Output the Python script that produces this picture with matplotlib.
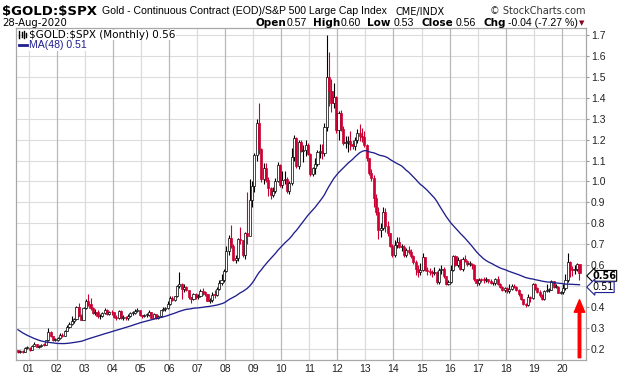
import matplotlib.pyplot as plt
import matplotlib.transforms as mtransforms
from matplotlib.lines import Line2D
import numpy as np

# Gold / S&P 500 ratio, monthly, Aug 2000 .. Aug 2020
closes = [
    0.183, 0.190, 0.185, 0.205, 0.206,                                              # 2000 Aug-Dec
    0.195, 0.215, 0.222, 0.211, 0.213, 0.221, 0.220, 0.241, 0.281, 0.263, 0.241, 0.243,  # 2001
    0.250, 0.268, 0.263, 0.287, 0.306, 0.321, 0.334, 0.342, 0.398, 0.358, 0.340, 0.394,  # 2002
    0.430, 0.414, 0.395, 0.370, 0.378, 0.355, 0.359, 0.372, 0.387, 0.365, 0.376, 0.374,  # 2003
    0.354, 0.346, 0.379, 0.350, 0.351, 0.346, 0.355, 0.370, 0.373, 0.380, 0.386, 0.361,  # 2004
    0.357, 0.361, 0.362, 0.376, 0.350, 0.365, 0.348, 0.356, 0.385, 0.389, 0.396, 0.415,  # 2005
    0.445, 0.434, 0.451, 0.500, 0.509, 0.485, 0.496, 0.480, 0.450, 0.438, 0.461, 0.448,  # 2006
    0.453, 0.475, 0.471, 0.460, 0.431, 0.433, 0.459, 0.457, 0.487, 0.513, 0.529, 0.571,  # 2007
    0.670, 0.730, 0.692, 0.623, 0.633, 0.727, 0.719, 0.649, 0.755, 0.740, 0.910, 0.979,  # 2008
    1.124, 1.280, 1.155, 1.013, 1.065, 1.009, 0.968, 0.936, 0.954, 1.004, 1.078, 0.983,  # 2009
    1.007, 1.013, 0.952, 0.994, 1.115, 1.207, 1.072, 1.190, 1.146, 1.148, 1.174, 1.130,  # 2010
    1.036, 1.062, 1.085, 1.141, 1.142, 1.136, 1.260, 1.500, 1.432, 1.377, 1.403, 1.245,  # 2011
    1.326, 1.252, 1.185, 1.190, 1.192, 1.178, 1.167, 1.200, 1.230, 1.217, 1.210, 1.175,  # 2012
    1.110, 1.042, 1.018, 0.921, 0.854, 0.768, 0.779, 0.855, 0.789, 0.753, 0.692, 0.650,  # 2013
    0.695, 0.711, 0.686, 0.688, 0.648, 0.674, 0.664, 0.643, 0.614, 0.581, 0.568, 0.575,  # 2014
    0.641, 0.576, 0.572, 0.568, 0.564, 0.568, 0.520, 0.575, 0.581, 0.549, 0.512, 0.519,  # 2015
    0.576, 0.642, 0.600, 0.626, 0.580, 0.630, 0.621, 0.604, 0.607, 0.600, 0.533, 0.514,  # 2016
    0.531, 0.530, 0.529, 0.532, 0.526, 0.513, 0.514, 0.535, 0.510, 0.494, 0.481, 0.490,  # 2017
    0.476, 0.486, 0.502, 0.497, 0.483, 0.461, 0.438, 0.416, 0.410, 0.449, 0.444, 0.511,  # 2018
    0.490, 0.473, 0.458, 0.437, 0.476, 0.480, 0.482, 0.523, 0.495, 0.498, 0.469, 0.470,  # 2019
    0.492, 0.530, 0.617, 0.582, 0.575, 0.580, 0.607, 0.563,                              # 2020 Jan-Aug
]
highs = [
    0.197, 0.195, 0.197, 0.207, 0.212,
    0.210, 0.218, 0.235, 0.225, 0.218, 0.224, 0.228, 0.243, 0.300, 0.285, 0.263, 0.250,
    0.258, 0.275, 0.275, 0.292, 0.312, 0.330, 0.355, 0.350, 0.405, 0.418, 0.368, 0.400,
    0.440, 0.460, 0.445, 0.398, 0.392, 0.385, 0.365, 0.378, 0.395, 0.392, 0.383, 0.385,
    0.378, 0.362, 0.385, 0.384, 0.362, 0.355, 0.365, 0.374, 0.380, 0.390, 0.395, 0.385,
    0.364, 0.368, 0.372, 0.385, 0.378, 0.370, 0.366, 0.360, 0.388, 0.400, 0.402, 0.428,
    0.452, 0.452, 0.455, 0.505, 0.567, 0.515, 0.512, 0.500, 0.482, 0.450, 0.466, 0.465,
    0.462, 0.485, 0.490, 0.476, 0.462, 0.445, 0.470, 0.482, 0.495, 0.528, 0.560, 0.580,
    0.690, 0.745, 0.790, 0.700, 0.648, 0.730, 0.780, 0.720, 0.760, 0.950, 1.010, 1.000,
    1.135, 1.300, 1.375, 1.160, 1.090, 1.090, 1.020, 0.975, 0.975, 1.015, 1.095, 1.085,
    1.050, 1.050, 1.020, 1.000, 1.160, 1.220, 1.210, 1.200, 1.200, 1.175, 1.200, 1.185,
    1.135, 1.070, 1.110, 1.150, 1.180, 1.180, 1.280, 1.700, 1.620, 1.490, 1.470, 1.410,
    1.335, 1.340, 1.265, 1.215, 1.215, 1.240, 1.200, 1.210, 1.250, 1.275, 1.255, 1.240,
    1.180, 1.110, 1.060, 1.030, 0.940, 0.880, 0.800, 0.880, 0.875, 0.810, 0.755, 0.700,
    0.720, 0.735, 0.735, 0.700, 0.695, 0.680, 0.690, 0.675, 0.650, 0.625, 0.600, 0.610,
    0.660, 0.640, 0.590, 0.585, 0.575, 0.590, 0.570, 0.585, 0.600, 0.590, 0.548, 0.530,
    0.600, 0.650, 0.650, 0.640, 0.630, 0.640, 0.650, 0.625, 0.620, 0.610, 0.605, 0.535,
    0.540, 0.540, 0.545, 0.545, 0.535, 0.535, 0.520, 0.540, 0.550, 0.515, 0.500, 0.495,
    0.495, 0.510, 0.510, 0.510, 0.500, 0.485, 0.465, 0.440, 0.420, 0.460, 0.455, 0.515,
    0.515, 0.495, 0.480, 0.460, 0.480, 0.510, 0.490, 0.530, 0.525, 0.510, 0.500, 0.475,
    0.510, 0.560, 0.660, 0.620, 0.595, 0.600, 0.612, 0.600,
]
lows = [
    0.180, 0.180, 0.181, 0.184, 0.198,
    0.192, 0.194, 0.212, 0.207, 0.205, 0.210, 0.215, 0.218, 0.238, 0.258, 0.238, 0.236,
    0.238, 0.246, 0.255, 0.260, 0.285, 0.300, 0.315, 0.325, 0.338, 0.355, 0.336, 0.338,
    0.390, 0.405, 0.388, 0.365, 0.360, 0.348, 0.345, 0.352, 0.368, 0.362, 0.362, 0.362,
    0.348, 0.340, 0.345, 0.345, 0.340, 0.338, 0.340, 0.353, 0.360, 0.365, 0.375, 0.358,
    0.350, 0.352, 0.352, 0.357, 0.348, 0.348, 0.345, 0.345, 0.353, 0.380, 0.383, 0.392,
    0.412, 0.428, 0.430, 0.447, 0.490, 0.440, 0.470, 0.475, 0.440, 0.418, 0.432, 0.440,
    0.440, 0.447, 0.458, 0.455, 0.428, 0.418, 0.425, 0.444, 0.452, 0.482, 0.505, 0.522,
    0.565, 0.650, 0.680, 0.620, 0.612, 0.620, 0.700, 0.640, 0.630, 0.700, 0.750, 0.880,
    0.950, 1.100, 1.130, 0.995, 0.990, 0.995, 0.930, 0.915, 0.925, 0.945, 0.995, 0.975,
    0.970, 0.990, 0.945, 0.940, 0.985, 1.100, 1.065, 1.060, 1.140, 1.095, 1.120, 1.125,
    1.025, 1.025, 1.035, 1.075, 1.110, 1.105, 1.120, 1.240, 1.360, 1.330, 1.350, 1.230,
    1.200, 1.240, 1.175, 1.160, 1.140, 1.150, 1.155, 1.150, 1.185, 1.195, 1.190, 1.165,
    1.100, 1.030, 1.000, 0.880, 0.840, 0.725, 0.735, 0.770, 0.760, 0.740, 0.685, 0.640,
    0.640, 0.680, 0.680, 0.670, 0.640, 0.640, 0.655, 0.635, 0.605, 0.555, 0.545, 0.555,
    0.570, 0.570, 0.555, 0.555, 0.545, 0.555, 0.510, 0.512, 0.560, 0.540, 0.505, 0.505,
    0.515, 0.570, 0.595, 0.590, 0.575, 0.570, 0.615, 0.595, 0.595, 0.580, 0.525, 0.500,
    0.505, 0.520, 0.515, 0.520, 0.515, 0.510, 0.505, 0.505, 0.505, 0.490, 0.475, 0.470,
    0.465, 0.465, 0.480, 0.490, 0.478, 0.455, 0.435, 0.410, 0.400, 0.405, 0.425, 0.440,
    0.480, 0.465, 0.450, 0.435, 0.435, 0.470, 0.470, 0.480, 0.490, 0.490, 0.465, 0.460,
    0.460, 0.480, 0.520, 0.545, 0.550, 0.560, 0.570, 0.530,
]
# closes before the chart window (Aug 1996 .. Jul 2000), only feed the 48-month average
closes_pre = [
    0.594, 0.552, 0.537, 0.491, 0.498,
    0.439, 0.453, 0.461, 0.424, 0.407, 0.377, 0.342, 0.361, 0.350, 0.340, 0.310, 0.299,
    0.309, 0.283, 0.273, 0.279, 0.269, 0.261, 0.257, 0.285, 0.289, 0.266, 0.253, 0.234,
    0.224, 0.232, 0.218, 0.214, 0.207, 0.191, 0.192, 0.193, 0.233, 0.220, 0.210, 0.197,
    0.204, 0.215, 0.186, 0.189, 0.192, 0.199, 0.194,
]
years = list(range(2001, 2021))
year_labels = ['%02d' % (y % 100) for y in years]
ytick_vals = [0.2, 0.3, 0.4, 0.5, 0.6, 0.7, 0.8, 0.9, 1.0, 1.1, 1.2, 1.3, 1.4, 1.5, 1.6, 1.7]
# 0.5 is hidden behind the value tags in the original
ytick_text = ['' if abs(v - 0.5) < 1e-9 else '%.1f' % v for v in ytick_vals]

RED = '#cc0033'
NAVY = '#1f1f8f'

c = np.array(closes)
h = np.array(highs)
l = np.array(lows)
o = np.concatenate([[closes_pre[-1]], c[:-1]])
n = len(c)
mon = np.arange(n) + 7          # months since Jan 2000, first bar is Aug 2000
x = 2000 + (mon + 0.5) / 12.0

full = np.array(closes_pre + closes)
ma = np.convolve(full, np.ones(48) / 48.0, 'valid')[1:]

fig = plt.figure(figsize=(6.2, 3.76), dpi=100)
ax = fig.add_axes([16 / 620, 16 / 376, 570 / 620, 332 / 376])
ax.set_xlim(2000.554, 2020.857)
ax.set_ylim(0.147, 1.733)

for yv in ytick_vals:
    ax.axhline(yv, color='#dcdcdc', lw=0.8, zorder=0)
for yr in years:
    ax.axvline(yr, color='#b8b8b8' if yr % 2 == 0 else '#dcdcdc', lw=0.9, zorder=0)

down = c < o
cols = np.where(down, RED, 'black')
ax.vlines(x, l, h, colors=cols, lw=0.8, zorder=2)
bot = np.minimum(o, c)
hgt = np.maximum(np.abs(c - o), 0.004)
fills = np.where(c > o, 'white', cols)
ax.bar(x, hgt, bottom=bot, width=0.075, color=fills, edgecolor=cols, lw=0.5, zorder=3)

ax.plot(x, ma, color=NAVY, lw=0.95, zorder=4)

ax.set_xticks(years)
ax.set_xticklabels(year_labels, fontfamily='Liberation Sans', fontsize=7.5, color='#222222')
ax.set_yticks(ytick_vals)
ax.set_yticklabels(ytick_text, fontfamily='Liberation Sans', fontsize=7.5, color='#222222')
ax.yaxis.tick_right()
ax.tick_params(axis='x', length=0, pad=3)
ax.tick_params(axis='y', length=2, pad=1.5, color='#999999')
for sp in ax.spines.values():
    sp.set_color('#a8a8a8')
    sp.set_linewidth(0.9)

# last value tags on the right
tr = mtransforms.blended_transform_factory(ax.transAxes, ax.transData)
ax.text(1.011, 0.549, '0.56', transform=tr, ha='left', va='center', fontsize=7,
        fontweight='bold', fontfamily='DejaVu Sans', clip_on=False,
        bbox=dict(boxstyle='larrow,pad=0.04', fc='white', ec='black', lw=0.8))
ax.text(1.011, 0.495, '0.51', transform=tr, ha='left', va='center', fontsize=7,
        fontfamily='DejaVu Sans', clip_on=False,
        bbox=dict(boxstyle='larrow,pad=0.04', fc='white', ec=NAVY, lw=0.8))

# red arrow pointing at the latest bar
ax.annotate('', xy=(x[-1], 0.435), xytext=(x[-1], 0.158),
            arrowprops=dict(width=1.8, headwidth=7.5, headlength=9, shrink=0, color='#ff0000'),
            annotation_clip=False)


def ftxt(px, py, s, **kw):
    return fig.text(px / 620, 1 - py / 376, s, va='baseline', **kw)


ftxt(2, 15, '\\$GOLD:\\$SPX', fontsize=9.5, fontweight='bold', fontfamily='DejaVu Sans')
ftxt(102, 14.5, 'Gold - Continuous Contract (EOD)/S&P 500 Large Cap Index',
     fontsize=7.6, fontfamily='Liberation Sans')
ftxt(395, 14.5, 'CME/INDX', fontsize=7, fontfamily='DejaVu Sans')
ftxt(585, 14.5, '\u00a9 StockCharts.com', fontsize=7, fontfamily='DejaVu Sans', ha='right',
     color='#333333')
ftxt(2, 26, '28-Aug-2020', fontsize=7.3, fontfamily='DejaVu Sans')
hdr = [(255, 'Open', True), (287, '0.57', False), (313, 'High', True), (341, '0.60', False),
       (367, 'Low', True), (394, '0.53', False), (422, 'Close', True), (456, '0.56', False),
       (483, 'Chg', True), (508, '-0.04 (-7.27 %)', False)]
for px, s, b in hdr:
    ftxt(px, 26, s, fontsize=7.5 if b else 7.6, fontweight='bold' if b else 'normal',
         fontfamily='DejaVu Sans' if b else 'Liberation Sans')
ftxt(579, 25, '\u25bc', fontsize=5, fontfamily='DejaVu Sans', color='#8b0020')

# legend inside the plot
ftxt(29, 38, '\\$GOLD:\\$SPX (Monthly) 0.56', fontsize=7.5, fontfamily='DejaVu Sans',
     bbox=dict(fc='white', ec='none', pad=0.3))
ftxt(29, 48.5, 'MA(48) 0.51', fontsize=7.6, fontfamily='Liberation Sans', color=NAVY,
     bbox=dict(fc='white', ec='none', pad=0.3))
for px, y0, y1 in [(19, 31, 38), (21.5, 32, 37), (24, 31, 38), (26, 33, 37)]:
    fig.add_artist(Line2D([px / 620, px / 620], [1 - y0 / 376, 1 - y1 / 376], color='black', lw=1.0))
fig.add_artist(Line2D([19 / 620, 27 / 620], [1 - 45 / 376, 1 - 45 / 376], color=NAVY, lw=2))

fig.savefig('out.png', dpi=100)
